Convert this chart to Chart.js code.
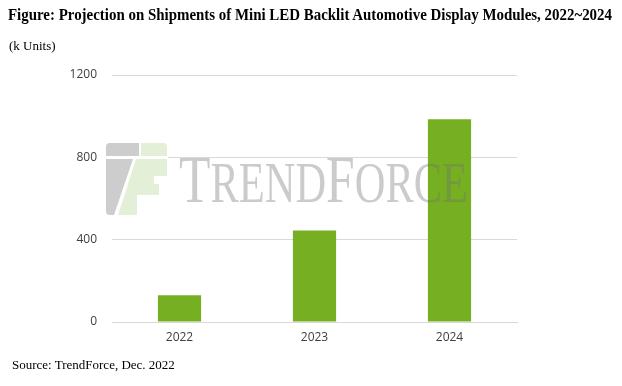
<!DOCTYPE html>
<html>
<head>
<meta charset="utf-8">
<script src="https://cdn.jsdelivr.net/npm/chart.js@4"></script>
<style>
  html, body { margin: 0; padding: 0; background: #fff; }
  #wrap { position: relative; width: 622px; height: 386px; overflow: hidden; }
  #shipChart { position: absolute; left: 0; top: 0; }
  .txt { position: absolute; font-family: "Liberation Serif", "DejaVu Serif", serif; color: #000; white-space: nowrap; }
  #title { left: 8px; top: 6px; font-size: 16px; font-weight: bold; }
  #unit { left: 9px; top: 38px; font-size: 13px; }
  #source { left: 12px; top: 357px; font-size: 13px; }
  #mark { left: 179px; top: 145px; font-size: 68px; line-height: 68px; color: rgba(110,110,110,0.36); }
  #mark small { font-size: 56px; }
  #logo { position: absolute; left: 104px; top: 140px; }
</style>
</head>
<body>
<div id="wrap">
  <canvas id="shipChart" width="622" height="386"></canvas>
  <svg id="logo" width="66" height="78" viewBox="0 0 66 78">
    <rect x="2" y="15" width="62" height="4" fill="#fff"/>
    <path d="M2 7 Q2 3 6 3 H35 V16 H2 Z" fill="#cdcdcd"/>
    <path d="M2 19 H29 L10 75 H6 Q2 75 2 71 Z" fill="#cdcdcd"/>
    <path d="M37 3 H59 Q63 3 63 7 V16 H37 Z" fill="#e4efd8"/>
    <path d="M32 19 H63 V36 H50 V44 H55 V55 H33 V75 H14 Z" fill="#e4efd8"/>
  </svg>
  <div class="txt" id="title">Figure: Projection on Shipments of Mini LED Backlit Automotive Display Modules, 2022~2024</div>
  <div class="txt" id="unit">(k Units)</div>
  <div class="txt" id="mark">T<small>REND</small>F<small>ORCE</small></div>
  <div class="txt" id="source">Source: TrendForce, Dec. 2022</div>
</div>
<script>
const years = ["2022", "2023", "2024"];
const shipments = [130, 445, 985];
const yTicks = [0, 400, 800, 1200];

// squeeze title and watermark to the widths they have in the figure
function fitWidth(id, target) {
    const el = document.getElementById(id);
    const w = el.getBoundingClientRect().width;
    el.style.transformOrigin = "0 0";
    el.style.transform = "scaleX(" + (target / w) + ")";
}
fitWidth("title", 604);
fitWidth("mark", 289);

new Chart(document.getElementById("shipChart"), {
    type: 'bar',
    data: {
        labels: years,
        datasets: [
            {
                label: "Shipments",
                backgroundColor: "#76b022",
                data: shipments,
                barPercentage: 0.32,
                categoryPercentage: 1.0
            }
        ]
    },
    options: {
        responsive: false,
        animation: false,
        events: [],
        layout: { padding: { left: 0, right: 105, top: 75, bottom: 34 } },
        plugins: {
            legend: { display: false },
            tooltip: { enabled: false }
        },
        scales: {
            x: {
                grid: { display: false, drawTicks: false },
                border: { display: true, color: "#d9d9d9", width: 1 },
                ticks: { color: "#404040", font: { family: "Open Sans", size: 12 }, padding: 8 },
                afterFit: (s) => { s.height = 30; }
            },
            y: {
                min: 0,
                max: 1200,
                afterBuildTicks: (s) => { s.ticks = yTicks.map(v => ({ value: v })); },
                grid: { color: "#d9d9d9", drawTicks: false },
                border: { display: false },
                ticks: {
                    color: "#404040",
                    font: { family: "Open Sans", size: 12 },
                    padding: 15,
                    callback: (v) => String(v)
                },
                afterFit: (s) => { s.width = 112; }
            }
        }
    }
});
</script>
</body>
</html>
